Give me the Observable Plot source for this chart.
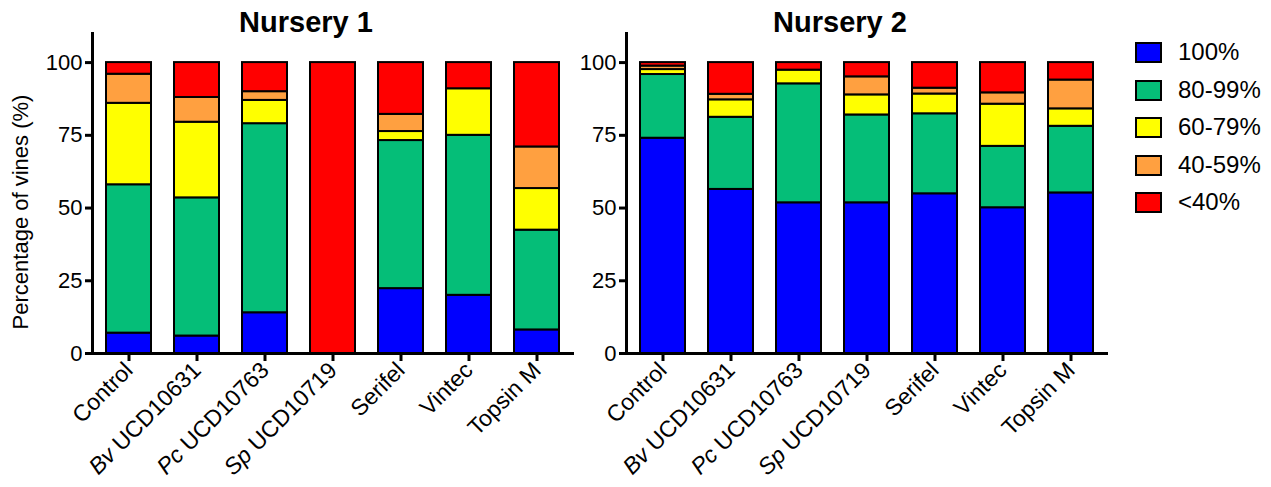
<!DOCTYPE html>
<html><head><meta charset="utf-8">
<script src="https://cdn.jsdelivr.net/npm/d3@7"></script>
<script src="https://cdn.jsdelivr.net/npm/@observablehq/plot@0.6"></script>
<style>
body{margin:0;background:#fff;font-family:"Liberation Sans",Arial,sans-serif;}
#wrap{position:relative;width:1271px;height:487px;overflow:hidden;background:#fff;}
.panel{position:absolute;top:0;}
.title{position:absolute;top:8px;font-weight:bold;font-size:29px;line-height:29px;transform:translateX(-50%);white-space:nowrap;color:#000;}
.ylab{position:absolute;left:21px;top:212px;font-size:22px;line-height:22px;white-space:nowrap;transform:translate(-50%,-50%) rotate(-90deg);color:#000;}
.leg{position:absolute;left:1135px;top:0;}
.leg .row{position:absolute;left:0;height:24px;display:flex;align-items:center;white-space:nowrap;font-size:24px;line-height:24px;color:#000;}
.leg .sw{width:23px;height:17px;border:2px solid #000;margin-right:16px;flex:none;}
</style></head>
<body><div id="wrap"></div>
<script>
const treatments = ["Control","Bv UCD10631","Pc UCD10763","Sp UCD10719","Serifel","Vintec","Topsin M"];
const italicPrefixes = ["Bv","Pc","Sp"];
const classes = ["100%","80-99%","60-79%","40-59%","<40%"];
const classColors = ["#0000ff","#05be78","#ffff00","#ffa040","#ff0000"];
const yTicks = [0,25,50,75,100];

// Nursery 1 (%)
const n1_100  = [7,   6,    14, 0,   22.3, 20, 8.1];
const n1_80   = [51,  47.5, 65, 0,   50.9, 55, 34.3];
const n1_60   = [28,  26,   8,  0,   3.1,  16, 14.3];
const n1_40   = [10,  8.5,  3,  0,   5.9,  0,  14.3];
const n1_lt40 = [4,   12,   10, 100, 17.8, 9,  29];

// Nursery 2 (%)
const n2_100  = [74,   56.4, 51.8, 51.8, 54.9, 50.1, 55.2];
const n2_80   = [21.9, 24.8, 40.9, 30.2, 27.5, 21.1, 22.9];
const n2_60   = [1.7,  6,    4.7,  6.9,  6.8,  14.5, 6];
const n2_40   = [1.2,  1.9,  0,    6.2,  2,    3.9,  9.9];
const n2_lt40 = [1.2,  10.9, 2.6,  4.9,  8.8,  10.4, 6];

function toRows(series){
  const rows = [];
  series.forEach((vals, ci) => vals.forEach((v, ti) => {
    if (v > 0) rows.push({treatment: treatments[ti], cls: classes[ci], value: v});
  }));
  return rows;
}
const data1 = toRows([n1_100,n1_80,n1_60,n1_40,n1_lt40]);
const data2 = toRows([n2_100,n2_80,n2_60,n2_40,n2_lt40]);

function panel(data, width, marginLeft, marginRight){
  const svg = Plot.plot({
    width, height: 487, marginLeft, marginRight, marginTop: 33, marginBottom: 134,
    style: {fontFamily: '"Liberation Sans", Arial, sans-serif', fontSize: "22px", color: "#000", background: "transparent", overflow: "visible"},
    x: {domain: treatments, paddingInner: 0.34, paddingOuter: 0.17, label: null},
    y: {domain: [0, 110], label: null},
    color: {domain: classes, range: classColors},
    marks: [
      Plot.barY(data, {x: "treatment", y: "value", fill: "cls", stroke: "#000", strokeWidth: 2, order: classes}),
      Plot.frame({anchor: "left", strokeWidth: 3}),
      Plot.frame({anchor: "bottom", strokeWidth: 3}),
      Plot.axisY({ticks: yTicks, tickSize: 7, tickPadding: 3, strokeWidth: 3, fontSize: 22, label: null}),
      Plot.axisX({tickSize: 8, tickPadding: 5, tickRotate: -45, strokeWidth: 3, fontSize: 23, label: null})
    ]
  });
  d3.select(svg).selectAll('g[aria-label="x-axis tick label"] text').each(function(){
    const t = this.textContent;
    const parts = t.split(" ");
    if (italicPrefixes.includes(parts[0])) {
      const sel = d3.select(this);
      sel.text(null);
      sel.append("tspan").attr("font-style", "italic").text(parts[0]);
      sel.append("tspan").text(" " + parts.slice(1).join(" "));
    }
  });
  return svg;
}

const wrap = document.getElementById("wrap");
const p1 = panel(data1, 600, 92, 28);
p1.classList.add("panel"); p1.style.left = "0px";
wrap.appendChild(p1);
const p2 = panel(data2, 560, 66, 14);
p2.classList.add("panel"); p2.style.left = "560px";
wrap.appendChild(p2);

const titles = [["Nursery 1", 306], ["Nursery 2", 840]];
titles.forEach(([t, x]) => {
  const d = document.createElement("div");
  d.className = "title"; d.style.left = x + "px"; d.textContent = t;
  wrap.appendChild(d);
});
const yl = document.createElement("div");
yl.className = "ylab"; yl.textContent = "Percentage of vines (%)";
wrap.appendChild(yl);

const leg = document.createElement("div");
leg.className = "leg";
const legY = [52, 90, 127, 165, 202];
classes.forEach((c, i) => {
  const r = document.createElement("div");
  r.className = "row"; r.style.top = (legY[i] - 12) + "px";
  const sw = document.createElement("div");
  sw.className = "sw"; sw.style.background = classColors[i];
  r.appendChild(sw);
  r.appendChild(document.createTextNode(c));
  leg.appendChild(r);
});
wrap.appendChild(leg);
</script>
</body></html>
